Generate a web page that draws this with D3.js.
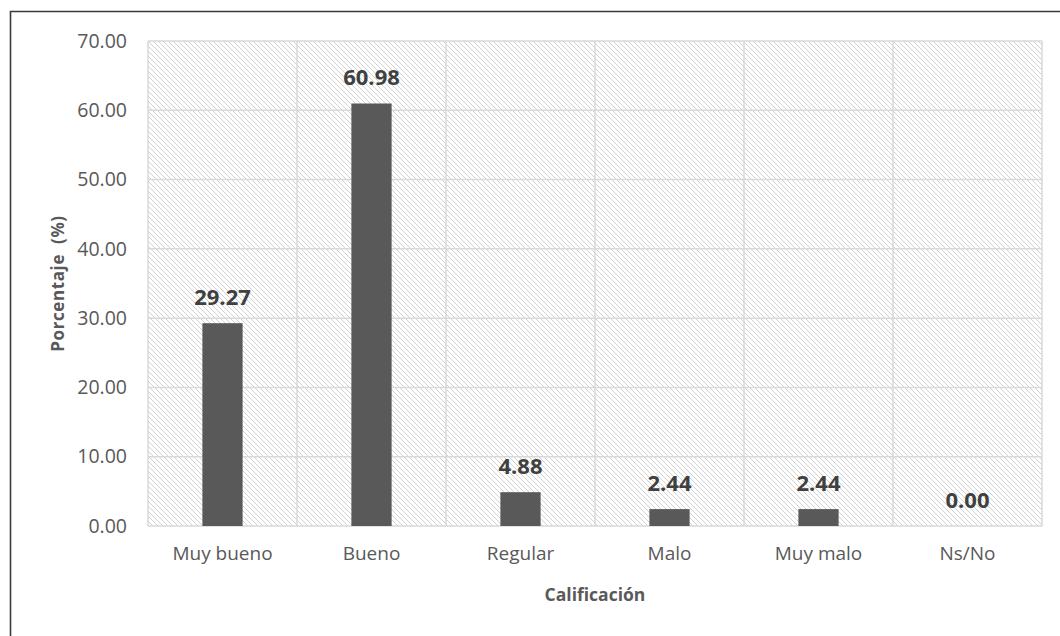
<!DOCTYPE html>
<html>
<head>
<meta charset="utf-8">
<script src="https://cdn.jsdelivr.net/npm/d3@7"></script>
<style>
  html, body { margin: 0; padding: 0; background: #fff; }
  svg { display: block; }
  text { font-family: "Open Sans", "Noto Sans", sans-serif; }
</style>
</head>
<body>
<svg id="chart" width="1060" height="636"></svg>
<script>
const categories = ["Muy bueno", "Bueno", "Regular", "Malo", "Muy malo", "Ns/No"];
const values = [29.27, 60.98, 4.88, 2.44, 2.44, 0.00];
const yTicks = [0, 10, 20, 30, 40, 50, 60, 70];
const xTitle = "Calificación";
const yTitle = "Porcentaje  (%)";

const W = 1060, H = 636;
const margin = { left: 148, top: 41, right: 18, bottom: 110 };
const plotW = W - margin.left - margin.right;
const plotH = H - margin.top - margin.bottom;

const svg = d3.select("#chart");

// defs: hatch pattern
const defs = svg.append("defs");
const pat = defs.append("pattern")
  .attr("id", "hatch")
  .attr("patternUnits", "userSpaceOnUse")
  .attr("width", 5).attr("height", 5);
pat.append("rect").attr("width", 5).attr("height", 5).attr("fill", "#ffffff");
pat.append("path")
  .attr("d", "M-1,-1 L6,6 M-1,4 L1,6 M4,-1 L6,1")
  .attr("stroke", "#cccccc").attr("stroke-width", 0.9);

// outer frame (left and top)
svg.append("path")
  .attr("d", `M10.5,${H} L10.5,11.5 L${W},11.5`)
  .attr("fill", "none").attr("stroke", "#3a3a3a").attr("stroke-width", 1.6);

const x = d3.scaleBand().domain(categories).range([0, plotW]).paddingInner(0).paddingOuter(0);
const y = d3.scaleLinear().domain([0, 70]).range([plotH, 0]);

const g = svg.append("g").attr("transform", `translate(${margin.left},${margin.top})`);

// plot background
g.append("rect").attr("x", 0).attr("y", 0).attr("width", plotW).attr("height", plotH)
  .attr("fill", "url(#hatch)");

// horizontal gridlines
g.append("g").selectAll("line").data(yTicks).join("line")
  .attr("x1", 0).attr("x2", plotW)
  .attr("y1", d => y(d)).attr("y2", d => y(d))
  .attr("stroke", "#d9d9d9").attr("stroke-width", 1.5);

// vertical gridlines at category boundaries
const bounds = categories.map(c => x(c)).concat([plotW]);
g.append("g").selectAll("line").data(bounds).join("line")
  .attr("x1", d => d).attr("x2", d => d)
  .attr("y1", 0).attr("y2", plotH)
  .attr("stroke", "#d9d9d9").attr("stroke-width", 1.5);

// y axis labels
const yAxis = d3.axisLeft(y).tickValues(yTicks).tickFormat(d3.format(".2f")).tickSize(0).tickPadding(21);
const ya = g.append("g").call(yAxis);
ya.select(".domain").remove();
ya.selectAll("text").attr("fill", "#595959").style("font-size", "19.5px")
  .style("font-family", "'Open Sans', sans-serif");

// x axis labels
const xAxis = d3.axisBottom(x).tickSize(0).tickPadding(21);
const xa = g.append("g").attr("transform", `translate(0,${plotH})`).call(xAxis);
xa.select(".domain").remove();
xa.selectAll("text").attr("fill", "#595959").style("font-size", "19px")
  .style("font-family", "'Open Sans', sans-serif");

// bars
const barW = x.bandwidth() * 0.27;
g.append("g").selectAll("rect").data(values).join("rect")
  .attr("x", (d, i) => x(categories[i]) + x.bandwidth() / 2 - barW / 2)
  .attr("y", d => y(d))
  .attr("width", barW)
  .attr("height", d => plotH - y(d))
  .attr("fill", "#595959");

// value labels
g.append("g").selectAll("text").data(values).join("text")
  .attr("x", (d, i) => x(categories[i]) + x.bandwidth() / 2)
  .attr("y", d => y(d) - 18)
  .attr("text-anchor", "middle")
  .attr("fill", "#404040")
  .style("font-size", "22px").style("font-weight", "bold")
  .text(d => d3.format(".2f")(d));

// axis titles
svg.append("text")
  .attr("x", margin.left + plotW / 2).attr("y", 601)
  .attr("text-anchor", "middle").attr("fill", "#595959")
  .style("font-size", "17.5px").style("font-weight", "bold")
  .text(xTitle);

svg.append("text")
  .attr("transform", `translate(64,${margin.top + plotH / 2}) rotate(-90)`)
  .attr("text-anchor", "middle").attr("fill", "#595959")
  .attr("xml:space", "preserve").style("white-space", "pre")
  .style("font-size", "17px").style("font-weight", "bold").style("letter-spacing", "0.6px")
  .text(yTitle);
</script>
</body>
</html>
